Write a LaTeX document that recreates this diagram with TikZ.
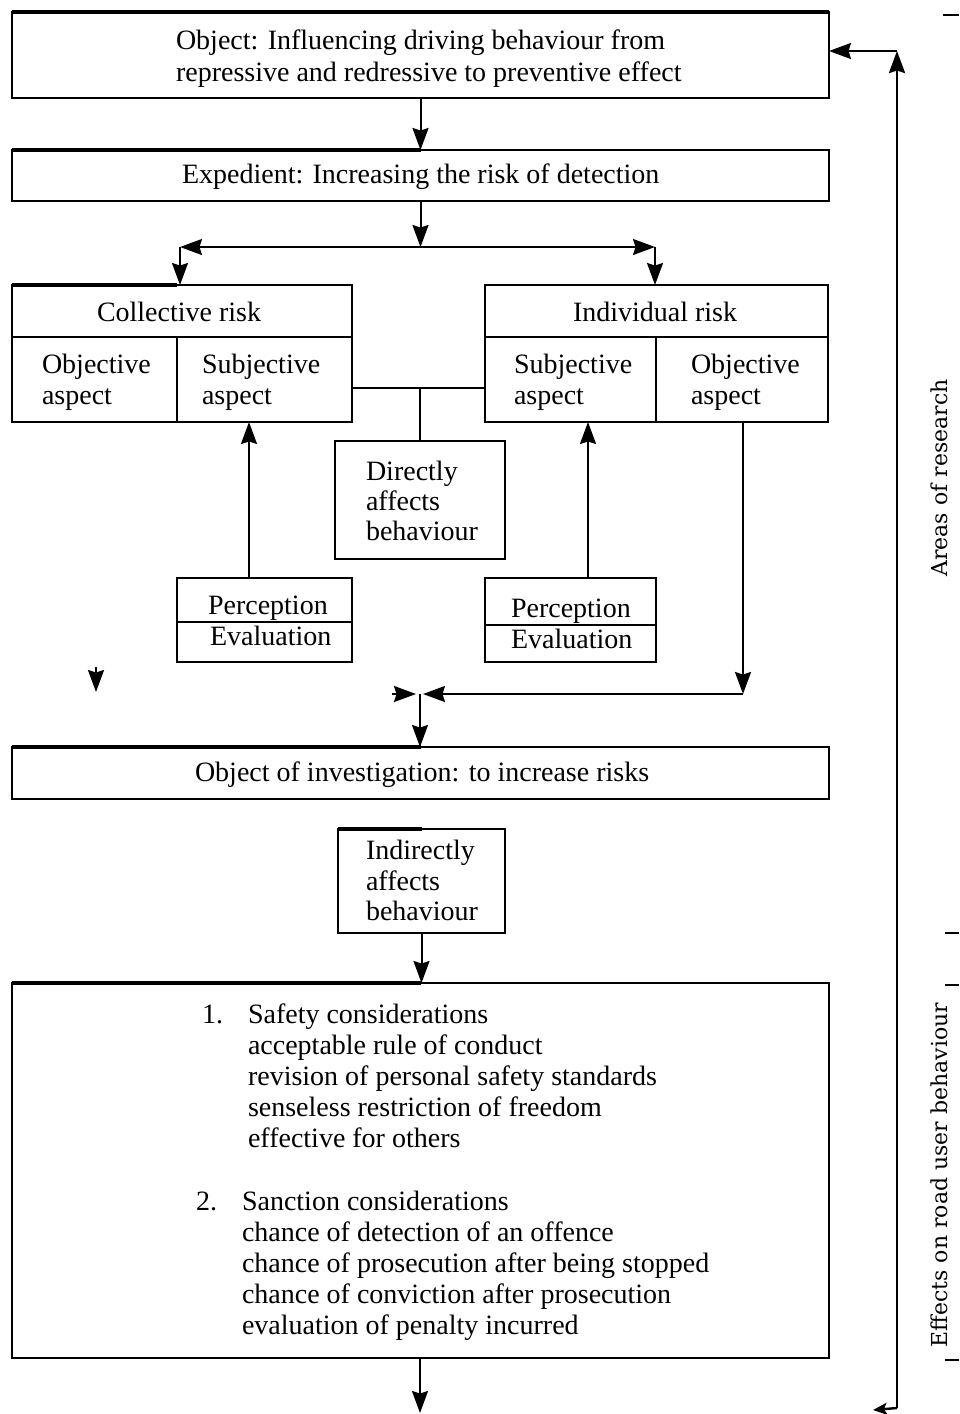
\documentclass[tikz,border=0pt]{standalone}
\usepackage{fontspec}
\setmainfont{Liberation Serif}
\newfontfamily\sidefont{DejaVu Serif}
\usetikzlibrary{arrows.meta}
\newcommand\mylines[1]{\begin{tabular}[t]{@{}l@{}}#1\end{tabular}}
\begin{document}
\begin{tikzpicture}[x=1pt,y=-1pt,
  every node/.style={inner sep=0pt,outer sep=0pt,font=\fontsize{28}{31}\selectfont},
  rbox/.style n args={2}{draw,line width=2pt,minimum width=#1,minimum height=#2},
  tline/.style={line width=2pt},
  thk/.style={line width=4.5pt},
  arw/.style={line width=2pt,-{Stealth[length=22pt,width=16pt,inset=2.5pt]}},
  arw2/.style={line width=2pt,{Stealth[length=22pt,width=16pt,inset=2.5pt]}-{Stealth[length=22pt,width=16pt,inset=2.5pt]}},
  arwsmall/.style={line width=2.4pt,-{Stealth[length=14pt,width=12pt,inset=3pt]}},
  tx/.style={anchor=base west},
  sidetext/.style={rotate=90,font=\sidefont\fontsize{22}{26}\selectfont},
]
\useasboundingbox (0,0) rectangle (959,1414);

% boxes
\node[rbox={817}{86}] (b1) at (420.5,55) {};
\node[rbox={817}{51}] (b2) at (420.5,175.5) {};
\node[rbox={340}{52}] (colhead) at (182,311) {};
\node[rbox={165}{85}] (colobj) at (94.5,379.5) {};
\node[rbox={175}{85}] (colsub) at (264.5,379.5) {};
\node[rbox={343}{52}] (indhead) at (656.5,311) {};
\node[rbox={171}{85}] (indsub) at (570.5,379.5) {};
\node[rbox={172}{85}] (indobj) at (742,379.5) {};
\node[rbox={170}{118}] (direct) at (420,500) {};
\node[rbox={175}{44}] (lperc) at (264.5,600) {};
\node[rbox={175}{40}] (leval) at (264.5,642) {};
\node[rbox={171}{47}] (rperc) at (570.5,601.5) {};
\node[rbox={171}{37}] (reval) at (570.5,643.5) {};
\node[rbox={817}{52}] (b3) at (420.5,773) {};
\node[rbox={167}{104}] (indirect) at (421.5,881) {};
\node[rbox={817}{375}] (b4) at (420.5,1170.5) {};

% heavy top edges
\draw[thk] (b1.north west) -- (b1.north east);
\draw[thk] (b2.north west) -- (b2.north);
\draw[thk] (colhead.north west) -- (colsub.north west |- colhead.north);
\draw[thk] (b3.north west) -- (b3.north);
\draw[thk] (indirect.north west) -- (indirect.north);
\draw[thk] (b4.north west) -- (b4.north);

% texts
\node[tx] (t1) at (176,49) {\mylines{Object: Influencing driving behaviour from\\[1pt] repressive and redressive to preventive effect}};
\node[tx] (t2) at (182,183) {Expedient: Increasing the risk of detection};
\node[tx] (tch) at (97,321) {Collective risk};
\node[tx] (tco) at (42,373) {\mylines{Objective\\aspect}};
\node[tx] (tcs) at (202,373) {\mylines{Subjective\\aspect}};
\node[tx] (tih) at (573,321) {Individual risk};
\node[tx] (tis) at (514,373) {\mylines{Subjective\\aspect}};
\node[tx] (tio) at (691,373) {\mylines{Objective\\aspect}};
\node[tx] (tdir) at (366,480) {\mylines{Directly\\[-1pt] affects\\[-1pt] behaviour}};
\node[tx] (tlp) at (208,614) {Perception};
\node[tx] (tle) at (210,645) {Evaluation};
\node[tx] (trp) at (511,617) {Perception};
\node[tx] (tre) at (511,648) {Evaluation};
\node[tx] (t3) at (195,781) {Object of investigation: to increase risks};
\node[tx] (tind) at (366,859) {\mylines{Indirectly\\ affects\\[-1pt] behaviour}};
\node[tx] (n1) at (202,1023) {1.};
\node[tx] (l1) at (248,1023) {\mylines{Safety considerations\\ acceptable rule of conduct\\ revision of personal safety standards\\ senseless restriction of freedom\\ effective for others}};
\node[tx] (n2) at (196,1210) {2.};
\node[tx] (l2) at (242,1210) {\mylines{Sanction considerations\\ chance of detection of an offence\\ chance of prosecution after being stopped\\ chance of conviction after prosecution\\ evaluation of penalty incurred}};

\node[sidetext] (areas) at (939,478) {Areas of research};
\node[sidetext] (effects) at (939,1175) {Effects on road user behaviour};

% connectors
\coordinate (split) at (420.5,247);
\coordinate (lsplit) at (180,247);
\coordinate (rsplit) at (655,247);
\draw[arw] (b1.south) -- (b2.north);
\draw[arw] (b2.south) -- (split);
\draw[arw2] (lsplit) -- (rsplit);
\draw[arw] (lsplit) -- (lsplit |- colhead.north);
\draw[arw] (rsplit) -- (rsplit |- indhead.north);

\coordinate (link) at (420,388);
\draw[tline] (colsub.east |- link) -- (indsub.west |- link);
\draw[tline] (link) -- (direct.north -| link);

\coordinate (lup) at (249,0);
\coordinate (rup) at (588,0);
\draw[arw] (lperc.north -| lup) -- (colsub.south -| lup);
\draw[arw] (rperc.north -| rup) -- (indsub.south -| rup);

\coordinate (odown) at (743,694);
\coordinate (merge) at (420,694);
\coordinate (mergeL) at (416,694);
\coordinate (mergeR) at (423,694);
\coordinate (lin) at (392,694);
\draw[arw] (indobj.south -| odown) -- (odown);
\draw[arw] (odown) -- (mergeR);
\draw[arw] (lin) -- (mergeL);
\coordinate (strayT) at (96,667);
\coordinate (strayB) at (96,692);
\draw[arw] (strayT) -- (strayB);
\draw[arw] (merge) -- (b3.north -| merge);

\draw[arw] (indirect.south) -- (b4.north -| indirect.south);
\coordinate (bottom) at (420,1413);
\draw[arw] (b4.south -| bottom) -- (bottom);

% feedback loop
\coordinate (fbb) at (897,1408);
\coordinate (fbt) at (897,51);
\coordinate (hook) at (873,1410);
\draw[arwsmall] (fbb) -- (hook);
\draw[arw,line width=2.5pt] (fbb) -- (fbt);
\draw[arw] (fbt) -- (b1.east |- fbt);

% bracket ticks
\coordinate (k1a) at (943,15);  \coordinate (k1b) at (959,15);
\coordinate (k2a) at (945,933); \coordinate (k2b) at (959,933);
\coordinate (k3a) at (945,985); \coordinate (k3b) at (959,985);
\coordinate (k4a) at (945,1360); \coordinate (k4b) at (959,1360);
\draw[tline] (k1a) -- (k1b);
\draw[tline] (k2a) -- (k2b);
\draw[tline] (k3a) -- (k3b);
\draw[tline] (k4a) -- (k4b);
\end{tikzpicture}
\end{document}
